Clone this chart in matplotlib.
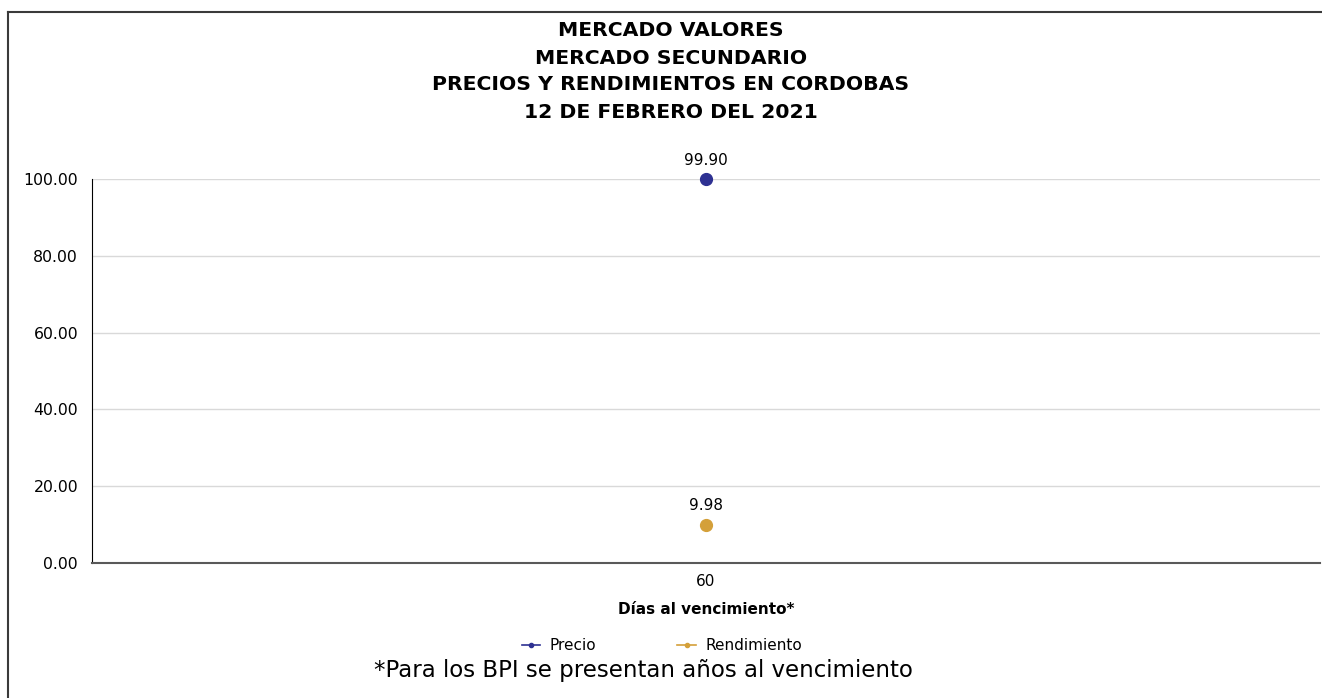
import matplotlib
matplotlib.use('Agg')
import matplotlib.pyplot as plt
from matplotlib.lines import Line2D

# data
categories = ['60']
precio = [99.90]
rendimiento = [9.98]
titulo = ['MERCADO VALORES', 'MERCADO SECUNDARIO',
          'PRECIOS Y RENDIMIENTOS EN CORDOBAS', '12 DE FEBRERO DEL 2021']
yticks = [0, 20, 40, 60, 80, 100]

plt.rcParams['font.family'] = ['DejaVu Sans']

col_precio = '#2e3192'
col_rend = '#d4a03a'
W, H = 1322, 698

fig = plt.figure(figsize=(W / 100, H / 100), dpi=100)
ax = fig.add_axes([92 / W, 1 - 563 / H, (1320 - 92) / W, (563 - 179) / H])

x = list(range(len(categories)))
ax.plot(x, precio, 'o', color=col_precio, markersize=8.5, clip_on=False)
ax.plot(x, rendimiento, 'o', color=col_rend, markersize=8.5, clip_on=False)
for serie in (precio, rendimiento):
    for xi, v in zip(x, serie):
        ax.annotate(f'{v:.2f}', (xi, v), xytext=(0, 13.5), textcoords='offset points',
                    ha='center', va='center', fontsize=11)

ax.set_xlim(-0.5, len(categories) - 0.5)
ax.set_ylim(0, 100)
ax.set_yticks(yticks)
ax.set_yticklabels([f'{t:.2f}' for t in yticks], fontsize=11.3)
ax.set_xticks(x)
ax.set_xticklabels(categories, fontsize=11)
ax.tick_params(axis='x', length=0, pad=8)
ax.tick_params(axis='y', length=0, pad=10)
ax.grid(axis='y', color='#d9d9d9', linewidth=1)
ax.set_axisbelow(True)
ax.spines['top'].set_visible(False)
ax.spines['right'].set_visible(False)
ax.spines['left'].set_color('black')
ax.spines['bottom'].set_color('#595959')
ax.spines['bottom'].set_linewidth(1.5)
ax.set_xlabel('Días al vencimiento*', fontsize=11, fontweight='bold', va='center')
ax.xaxis.set_label_coords(0.5, -(610 - 563) / (563 - 179))

# title
for i, t in enumerate(titulo):
    fig.text(671 / W, 1 - (31 + 27 * i) / H, t, ha='center', va='center',
             fontsize=14.7, fontweight='bold')

# legend
handles = [Line2D([0], [0], color=col_precio, marker='o', markersize=3, lw=1.2),
           Line2D([0], [0], color=col_rend, marker='o', markersize=3, lw=1.2)]
fig.legend(handles, ['Precio', 'Rendimiento'], loc='center', ncol=2,
           bbox_to_anchor=(662 / W, 1 - 646 / H), frameon=False,
           fontsize=11, handlelength=1.2, columnspacing=5.3, handletextpad=0.65,
           borderpad=0, borderaxespad=0)

fig.text(643 / W, 1 - 671 / H, '*Para los BPI se presentan años al vencimiento',
         ha='center', va='center', fontsize=16.5)

# outer border (top and left)
fig.add_artist(Line2D([8 / W, 8 / W], [0, 1 - 12 / H], transform=fig.transFigure,
                      color='#3a3a3a', lw=1.5))
fig.add_artist(Line2D([8 / W, 1], [1 - 12 / H, 1 - 12 / H], transform=fig.transFigure,
                      color='#3a3a3a', lw=1.5))

fig.savefig('out.png', dpi=100)
